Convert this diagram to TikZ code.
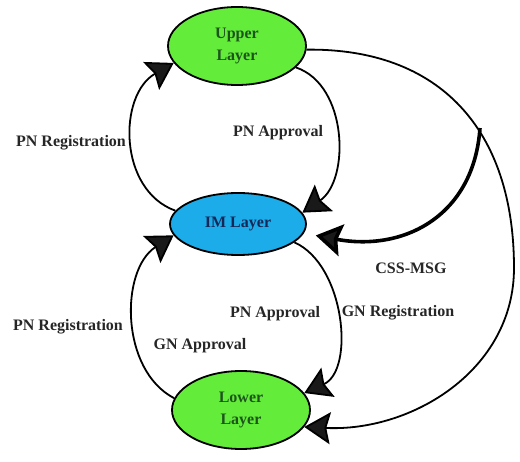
\documentclass[tikz,border=0pt]{standalone}
\usepackage{fontspec}
\setmainfont{Liberation Serif}
\usetikzlibrary{arrows.meta,shapes.geometric}
\definecolor{layergreen}{RGB}{100,236,58}
\definecolor{layerblue}{RGB}{28,172,234}
\definecolor{greentext}{RGB}{28,84,28}
\definecolor{bluetext}{RGB}{22,40,88}
\definecolor{labeltext}{RGB}{38,38,38}
\tikzset{
  layer/.style={ellipse,draw=black,line width=1.8pt,inner sep=0pt,align=center,
    font=\fontsize{16}{22}\selectfont\bfseries},
  greenlayer/.style={layer,fill=layergreen,text=greentext,minimum width=138pt,minimum height=78pt},
  bluelayer/.style={layer,fill=layerblue,text=bluetext,minimum width=136pt,minimum height=62pt},
  bigtip/.style={-{Stealth[length=26pt,width=32pt,inset=4pt,fill=black!90]}},
  conn/.style={line width=1.8pt,bigtip},
  thickconn/.style={line width=3.6pt,bigtip},
  lbl/.style={font=\fontsize{16}{18}\selectfont\bfseries,text=labeltext,inner sep=0pt}
}
\begin{document}
\begin{tikzpicture}[x=1pt,y=-1pt]
\useasboundingbox (0,0) rectangle (520,462);

% the three layers
\node[greenlayer] (up)  at (237,46)  {Upper\\Layer};
\node[bluelayer]  (im)  at (238,224) {IM Layer};
\node[greenlayer] (low) at (241,410) {Lower\\Layer};

% helper points of the outer loop and of the CSS message branch
\coordinate (rim) at (514,268);
\coordinate (cssfrom) at (480,128);

% between upper and IM layer
\draw[conn] (im.168) .. controls (118,190) and (118,95) .. (up.195);
\draw[conn] (up.-20) .. controls (348,85) and (350,180) .. (im.10);

% between IM and lower layer
\draw[conn] (low.170) .. controls (120,370) and (120,270) .. (im.190);
\draw[conn] (im.-18) .. controls (345,265) and (355,370) .. (low.15);

% outer loop from upper to lower layer
\draw[line width=1.8pt] (up.-3) .. controls (440,48) and (514,130) .. (rim);
\draw[conn] (rim) .. controls (514,370) and (412,432) .. (low.-15);

% CSS message back to the IM layer
\draw[thickconn,shorten >=12pt] (cssfrom) .. controls (474,215) and (405,252) .. (im.-8);

% labels
\node[lbl] (l1) at (71,143)  {PN Registration};
\node[lbl] (l2) at (278,133) {PN Approval};
\node[lbl] (l3) at (411,268) {CSS-MSG};
\node[lbl] (l4) at (275,314) {PN Approval};
\node[lbl] (l5) at (398,313) {GN Registration};
\node[lbl] (l6) at (68,327)  {PN Registration};
\node[lbl] (l7) at (200,346) {GN Approval};
\end{tikzpicture}
\end{document}
